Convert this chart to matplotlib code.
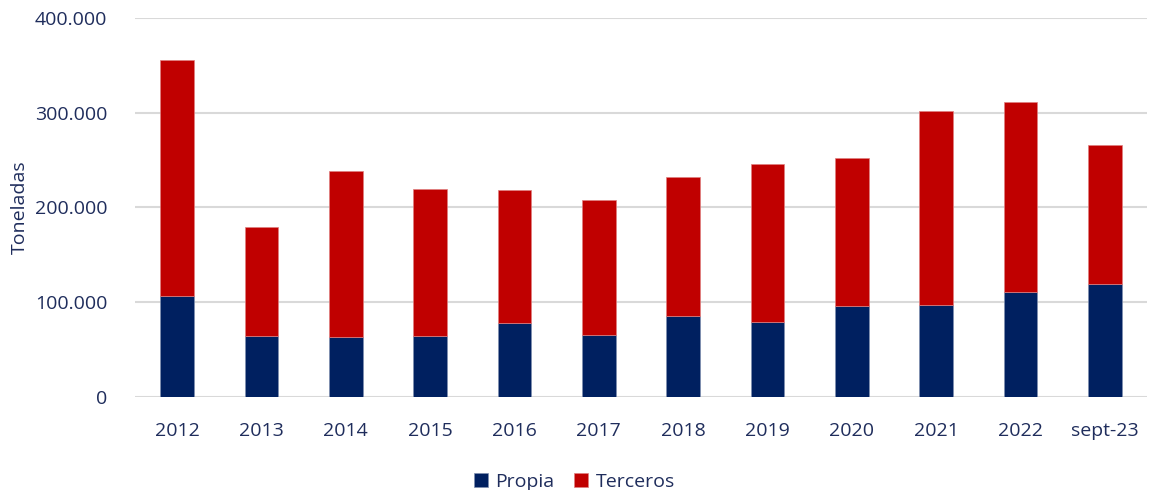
import matplotlib
matplotlib.use("Agg")
import matplotlib.pyplot as plt
import numpy as np
from matplotlib.ticker import FuncFormatter

categories = ["2012", "2013", "2014", "2015", "2016", "2017", "2018", "2019", "2020", "2021", "2022", "sept-23"]
propia = [107100, 64800, 63800, 64800, 78100, 65500, 86000, 79600, 96500, 96800, 111300, 119000]
total = [355500, 179500, 238300, 219000, 218000, 207400, 231700, 245400, 252400, 302000, 311500, 265500]
terceros = [t - p for t, p in zip(total, propia)]

NAVY = "#002060"
RED = "#C00000"
TXT = "#1F2D5C"

plt.rcParams['font.family'] = ['Open Sans', 'DejaVu Sans']

fig = plt.figure(figsize=(11.49, 4.90), dpi=100)
ax = fig.add_axes([135/1149, 1-397/490, 1012/1149, 379/490])

x = np.arange(len(categories))
w = 0.4
ax.bar(x, propia, width=w, color=NAVY, label="Propia", edgecolor="#8090b0", linewidth=0.5, zorder=3)
ax.bar(x, terceros, width=w, bottom=propia, color=RED, label="Terceros", edgecolor="#e08080", linewidth=0.5, zorder=3)

ax.set_xlim(-0.5, len(categories) - 0.5)
ax.set_ylim(0, 400000)
ax.set_yticks([0, 100000, 200000, 300000, 400000])
ax.yaxis.set_major_formatter(FuncFormatter(lambda v, p: f"{int(v):,}".replace(",", ".")))
ax.grid(axis='y', color="#D9D9D9", linewidth=1.5, zorder=0)
for s in ax.spines.values():
    s.set_visible(False)
ax.tick_params(axis='both', length=0, labelsize=14, colors=TXT)
ax.tick_params(axis='x', pad=18)
ax.tick_params(axis='y', pad=20)
ax.set_xticks(x)
ax.set_xticklabels(categories)
ax.set_ylabel("Toneladas", fontsize=14, color=TXT)
ax.yaxis.set_label_coords(-106/1012, 0.5)

leg = fig.legend(loc="lower center", bbox_to_anchor=(0.5, -0.037), ncol=2, frameon=False,
                 fontsize=14, labelcolor=TXT, handlelength=0.7, handleheight=0.7,
                 handletextpad=0.4, columnspacing=1.0)

fig.savefig("out.png", dpi=100)
